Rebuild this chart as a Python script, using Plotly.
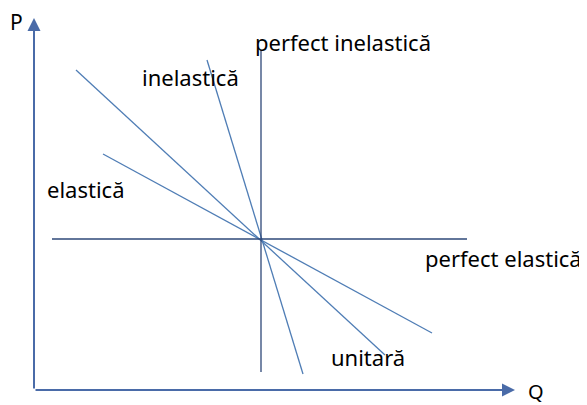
import plotly.graph_objects as go

# Data coordinates: origin at axis corner, Q to the right, P upward
center = (227, 151)
curve_names = ["inelastică", "unitară", "elastică"]
curve_x0 = [173, 42, 69]
curve_y0 = [330, 320, 236]
curve_x1 = [269, 351, 398]
curve_y1 = [16, 35, 57]

perf_inel_x = [227, 227]
perf_inel_y = [18, 340]
perf_el_x = [18, 433]
perf_el_y = [151, 151]

axis_q_end = 481
axis_p_end = 372

label_text = ["perfect inelastică", "inelastică", "elastică", "perfect elastică", "unitară"]
label_x = [309, 156, 51, 469, 334]
label_y = [348, 313, 201, 132, 33]

curve_color = "#4F7DB5"
straight_color = "#2E4878"
axis_color = "#4A6BA8"
font_family = "Noto Sans, Open Sans, Liberation Sans, sans-serif"

fig = go.Figure()
for name, x0, y0, x1, y1 in zip(curve_names, curve_x0, curve_y0, curve_x1, curve_y1):
    fig.add_trace(go.Scatter(x=[x0, x1], y=[y0, y1], mode="lines",
                             line=dict(color=curve_color, width=1.3), name=name,
                             hoverinfo="skip"))
fig.add_trace(go.Scatter(x=perf_inel_x, y=perf_inel_y, mode="lines",
                         line=dict(color=straight_color, width=1.3), hoverinfo="skip"))
fig.add_trace(go.Scatter(x=perf_el_x, y=perf_el_y, mode="lines",
                         line=dict(color=straight_color, width=1.3), hoverinfo="skip"))

# axes with arrows
fig.add_annotation(x=axis_q_end, y=0, ax=0, ay=0, xref="x", yref="y", axref="x", ayref="y",
                   showarrow=True, arrowhead=2, arrowsize=1.3, arrowwidth=2,
                   arrowcolor=axis_color, text="")
fig.add_annotation(x=0, y=axis_p_end, ax=0, ay=0, xref="x", yref="y", axref="x", ayref="y",
                   showarrow=True, arrowhead=2, arrowsize=1.3, arrowwidth=2,
                   arrowcolor=axis_color, text="")

fig.add_annotation(x=-18, y=368, text="P", showarrow=False,
                   font=dict(family=font_family, size=21, color="black"))
fig.add_annotation(x=502, y=-1, text="Q", showarrow=False,
                   font=dict(family=font_family, size=20, color="black"))

for t, x, y in zip(label_text, label_x, label_y):
    fig.add_annotation(x=x, y=y, text=t, showarrow=False,
                       font=dict(family=font_family, size=22, color="black"))

fig.update_layout(
    width=579, height=397,
    margin=dict(l=0, r=0, t=0, b=0),
    paper_bgcolor="white", plot_bgcolor="white",
    showlegend=False,
    xaxis=dict(range=[-26, 553], visible=False, fixedrange=True),
    yaxis=dict(range=[-15, 382], visible=False, fixedrange=True),
)
fig.write_html("out.html")
